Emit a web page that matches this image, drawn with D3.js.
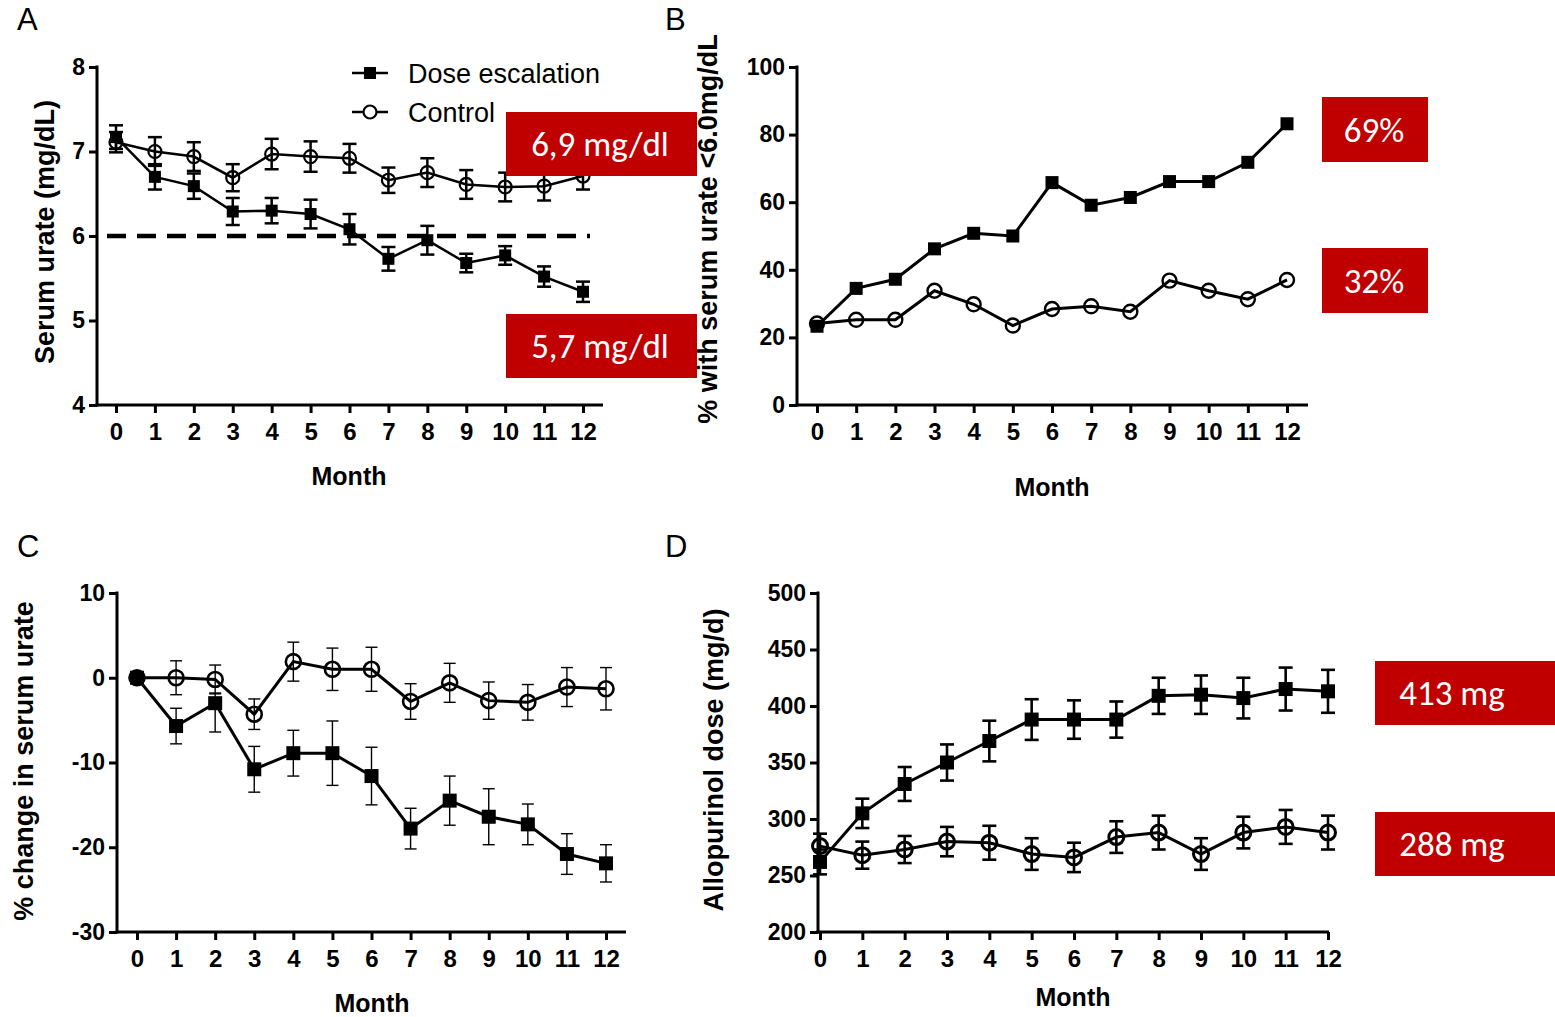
<!DOCTYPE html>
<html>
<head>
<meta charset="utf-8">
<script src="https://cdn.jsdelivr.net/npm/d3@7"></script>
<style>
  html, body { margin: 0; padding: 0; background: #fff; }
  svg { display: block; }
  .tick text { font-family: "Liberation Sans", Arial, sans-serif; font-weight: bold; fill: #000; }
</style>
</head>
<body>
<svg id="fig" width="1555" height="1017"></svg>
<script>
// ---- data ----------------------------------------------------------------
const months = [0, 1, 2, 3, 4, 5, 6, 7, 8, 9, 10, 11, 12];
const seriesNames = ["Dose escalation", "Control"];

// A: serum urate (mg/dL), mean ± SEM
const urateEsc    = [7.17, 6.70, 6.59, 6.29, 6.30, 6.26, 6.08, 5.73, 5.95, 5.68, 5.77, 5.52, 5.34];
const urateEscErr = [0.14, 0.15, 0.15, 0.16, 0.15, 0.17, 0.18, 0.14, 0.17, 0.11, 0.11, 0.12, 0.12];
const urateCtl    = [7.11, 7.00, 6.94, 6.69, 6.97, 6.94, 6.92, 6.66, 6.75, 6.61, 6.58, 6.59, 6.71];
const urateCtlErr = [0.12, 0.17, 0.17, 0.16, 0.18, 0.18, 0.17, 0.15, 0.17, 0.17, 0.17, 0.17, 0.16];
const urateTarget = 6;
const urateTicks  = [4, 5, 6, 7, 8];
const urateNotes  = ["6,9 mg/dl", "5,7 mg/dl"];

// B: % of patients with serum urate < 6.0 mg/dL
const pctEsc   = [23.3, 34.5, 37.2, 46.2, 50.8, 50.0, 65.8, 59.1, 61.4, 66.1, 66.1, 71.8, 83.2];
const pctCtl   = [24.1, 25.2, 25.2, 33.8, 29.8, 23.5, 28.4, 29.2, 27.6, 36.8, 33.8, 31.3, 37.0];
const pctTicks = [0, 20, 40, 60, 80, 100];
const pctNotes = ["69%", "32%"];

// C: % change in serum urate from baseline
const chgEsc      = [0.0, -5.7, -3.0, -10.8, -8.9, -8.9, -11.6, -17.8, -14.5, -16.4, -17.3, -20.8, -21.9];
const chgEscErrLo = [0.5, 2.1, 3.4, 2.7, 2.7, 3.8, 3.4, 2.4, 2.9, 3.3, 2.4, 2.4, 2.2];
const chgEscErrHi = [0.5, 2.1, 1.2, 2.7, 2.7, 3.8, 3.4, 2.4, 2.9, 3.3, 2.4, 2.4, 2.2];
const chgCtl      = [0.0, 0.0, -0.2, -4.3, 1.9, 1.0, 1.0, -2.8, -0.6, -2.7, -2.9, -1.1, -1.3];
const chgCtlErr   = [0.3, 2.0, 1.7, 1.8, 2.3, 2.5, 2.6, 2.1, 2.3, 2.2, 2.1, 2.3, 2.5];
const chgTicks    = [-30, -20, -10, 0, 10];

// D: allopurinol dose (mg/d)
const doseEsc    = [262, 305, 331, 350, 369, 388, 388, 388, 409, 410, 407, 415, 413];
const doseEscErr = [11, 13, 15, 16, 18, 18, 17, 16, 16, 17, 18, 19, 19];
const doseCtl    = [276, 268, 273, 280, 279, 269, 266, 284, 288, 269, 288, 293, 288];
const doseCtlErr = [11, 12, 12, 13, 15, 14, 13, 14, 15, 14, 14, 15, 15];
const doseTicks  = [200, 250, 300, 350, 400, 450, 500];
const doseNotes  = ["413 mg", "288 mg"];

// ---- drawing -------------------------------------------------------------
const svg = d3.select("#fig");
const FONT = '"Liberation Sans", Arial, Helvetica, sans-serif';
const NOTE_FONT = 'Carlito, Lato, "Open Sans", sans-serif';
const RED = "#c00000";
const intFmt = d => String(d);   // plain hyphen for negatives

function panel(cfg) {
  const g = svg.append("g");
  const x = d3.scaleLinear().domain([0, 12]).range(cfg.xRange);
  const y = d3.scaleLinear().domain(cfg.yDomain).range(cfg.yRange);
  const y0 = cfg.yRange[0];

  // axes
  const xAxis = d3.axisBottom(x).tickValues(months).tickSize(8).tickSizeOuter(0).tickPadding(8)
    .tickFormat(intFmt);
  const yAxis = d3.axisLeft(y).tickValues(cfg.yTicks).tickSize(8).tickSizeOuter(0).tickPadding(4)
    .tickFormat(intFmt);

  const gx = g.append("g").attr("transform", `translate(0,${y0})`).call(xAxis);
  gx.select(".domain").remove();
  gx.selectAll(".tick line").attr("stroke", "#000").attr("stroke-width", 3);
  gx.selectAll(".tick text").attr("font-size", 24).attr("dy", "0.8em");

  const gy = g.append("g").attr("transform", `translate(${cfg.axisX},0)`).call(yAxis);
  gy.select(".domain").remove();
  gy.selectAll(".tick line").attr("stroke", "#000").attr("stroke-width", 3);
  gy.selectAll(".tick text").attr("font-size", 23);

  g.append("line").attr("x1", cfg.axisX).attr("x2", cfg.axisX)
    .attr("y1", cfg.yRange[1] - 1.5).attr("y2", y0 + 1.5)
    .attr("stroke", "#000").attr("stroke-width", 3);
  g.append("line").attr("x1", cfg.axisX - 1.5).attr("x2", cfg.xEnd)
    .attr("y1", y0).attr("y2", y0)
    .attr("stroke", "#000").attr("stroke-width", 3);

  // axis titles
  g.append("text").attr("x", cfg.monthPos[0]).attr("y", cfg.monthPos[1])
    .attr("text-anchor", "middle").attr("font-family", FONT).attr("font-weight", "bold")
    .attr("font-size", 25).text("Month");
  g.append("text")
    .attr("transform", `translate(${cfg.titlePos[0]},${cfg.titlePos[1]}) rotate(-90)`)
    .attr("text-anchor", "middle").attr("font-family", FONT).attr("font-weight", "bold")
    .attr("font-size", 27).text(cfg.yTitle);

  // panel letter
  g.append("text").attr("x", cfg.letterPos[0]).attr("y", cfg.letterPos[1])
    .attr("font-family", FONT).attr("font-size", 31).text(cfg.letter);

  // reference line
  if (cfg.refLine !== undefined) {
    g.append("line").attr("x1", cfg.axisX + 10).attr("x2", x(12) + 7)
      .attr("y1", y(cfg.refLine)).attr("y2", y(cfg.refLine))
      .attr("stroke", "#000").attr("stroke-width", 4.5).attr("stroke-dasharray", "19,11");
  }

  // series: control first, dose escalation drawn on top
  const series = [
    { vals: cfg.ctl, lo: cfg.ctlErr, hi: cfg.ctlErr, shape: "circle" },
    { vals: cfg.esc, lo: cfg.escErrLo || cfg.escErr, hi: cfg.escErrHi || cfg.escErr, shape: "square" }
  ];
  const line = d3.line().x((d, i) => x(months[i])).y(d => y(d));

  series.forEach(s => {
    g.append("path").datum(s.vals).attr("d", line)
      .attr("fill", "none").attr("stroke", "#000").attr("stroke-width", cfg.lineW);
  });
  series.forEach(s => {
    if (s.lo) {
      const eb = g.append("g").attr("stroke", "#000").attr("stroke-width", cfg.errW);
      s.vals.forEach((v, i) => {
        const cx = x(months[i]);
        const top = y(v + s.hi[i]), bot = y(v - s.lo[i]);
        eb.append("line").attr("x1", cx).attr("x2", cx).attr("y1", top).attr("y2", bot);
        eb.append("line").attr("x1", cx - cfg.cap).attr("x2", cx + cfg.cap).attr("y1", top).attr("y2", top);
        eb.append("line").attr("x1", cx - cfg.cap).attr("x2", cx + cfg.cap).attr("y1", bot).attr("y2", bot);
      });
    }
    if (s.shape === "square") {
      g.append("g").selectAll("rect").data(s.vals).join("rect")
        .attr("x", (d, i) => x(months[i]) - cfg.sq / 2).attr("y", d => y(d) - cfg.sq / 2)
        .attr("width", cfg.sq).attr("height", cfg.sq).attr("fill", "#000");
    } else {
      g.append("g").selectAll("circle").data(s.vals).join("circle")
        .attr("cx", (d, i) => x(months[i])).attr("cy", d => y(d)).attr("r", cfg.r)
        .attr("fill", "none").attr("stroke", "#000").attr("stroke-width", cfg.circW);
    }
  });

  // highlighted notes
  cfg.notes.forEach((n, i) => {
    const b = cfg.noteBoxes[i];
    g.append("rect").attr("x", b[0]).attr("y", b[1]).attr("width", b[2]).attr("height", b[3]).attr("fill", RED);
    g.append("text").attr("x", b[0] + cfg.noteTextX).attr("y", b[1] + b[3] / 2 + 12)
      .attr("text-anchor", "middle").attr("font-family", NOTE_FONT).attr("font-size", 35)
      .attr("fill", "#fff").text(n);
  });
  return { x, y };
}

panel({
  letter: "A", letterPos: [17, 30],
  xRange: [116, 583], xEnd: 603, axisX: 97,
  yDomain: [4, 8], yRange: [405, 67], yTicks: urateTicks,
  yTitle: "Serum urate (mg/dL)", titlePos: [54, 232], monthPos: [349, 485],
  esc: urateEsc, escErr: urateEscErr, ctl: urateCtl, ctlErr: urateCtlErr,
  refLine: urateTarget,
  lineW: 2.5, errW: 2.5, cap: 7, sq: 12, r: 6.5, circW: 2.2,
  notes: urateNotes, noteBoxes: [[506, 112, 191, 64], [506, 314, 191, 64]], noteTextX: 94
});

panel({
  letter: "B", letterPos: [665, 30],
  xRange: [817, 1287], xEnd: 1308, axisX: 797,
  yDomain: [0, 100], yRange: [405, 67], yTicks: pctTicks,
  yTitle: "% with serum urate <6.0mg/dL", titlePos: [717, 229], monthPos: [1052, 496],
  esc: pctEsc, ctl: pctCtl,
  lineW: 3, errW: 2.5, cap: 7, sq: 13, r: 7, circW: 2.4,
  notes: pctNotes, noteBoxes: [[1322, 97, 106, 65], [1322, 248, 106, 65]], noteTextX: 52
});

panel({
  letter: "C", letterPos: [17, 557],
  xRange: [137, 606], xEnd: 626, axisX: 117,
  yDomain: [-30, 10], yRange: [932, 593], yTicks: chgTicks,
  yTitle: "% change in serum urate", titlePos: [33, 761], monthPos: [372, 1012],
  esc: chgEsc, escErrLo: chgEscErrLo, escErrHi: chgEscErrHi, ctl: chgCtl, ctlErr: chgCtlErr,
  lineW: 3, errW: 1.4, cap: 6, sq: 14, r: 7.5, circW: 2.6,
  notes: [], noteBoxes: [], noteTextX: 0
});

panel({
  letter: "D", letterPos: [665, 557],
  xRange: [820, 1328], xEnd: 1329, axisX: 818,
  yDomain: [200, 500], yRange: [932, 593], yTicks: doseTicks,
  yTitle: "Allopurinol dose (mg/d)", titlePos: [723, 760], monthPos: [1073, 1006],
  esc: doseEsc, escErr: doseEscErr, ctl: doseCtl, ctlErr: doseCtlErr,
  lineW: 3, errW: 2.6, cap: 7, sq: 14, r: 7.5, circW: 3,
  notes: doseNotes, noteBoxes: [[1375, 661, 180, 64], [1375, 812, 180, 64]], noteTextX: 77
});

// legend (panel A)
const legend = svg.append("g");
seriesNames.forEach((name, i) => {
  const ly = 73 + i * 39;
  legend.append("line").attr("x1", 352).attr("x2", 388).attr("y1", ly).attr("y2", ly)
    .attr("stroke", "#000").attr("stroke-width", 2.5);
  if (i === 0) {
    legend.append("rect").attr("x", 364).attr("y", ly - 6).attr("width", 12).attr("height", 12).attr("fill", "#000");
  } else {
    legend.append("circle").attr("cx", 370).attr("cy", ly).attr("r", 6.5)
      .attr("fill", "#fff").attr("stroke", "#000").attr("stroke-width", 2.2);
  }
  legend.append("text").attr("x", 408).attr("y", ly + 10)
    .attr("font-family", FONT).attr("font-size", 27).text(name);
});
</script>
</body>
</html>
